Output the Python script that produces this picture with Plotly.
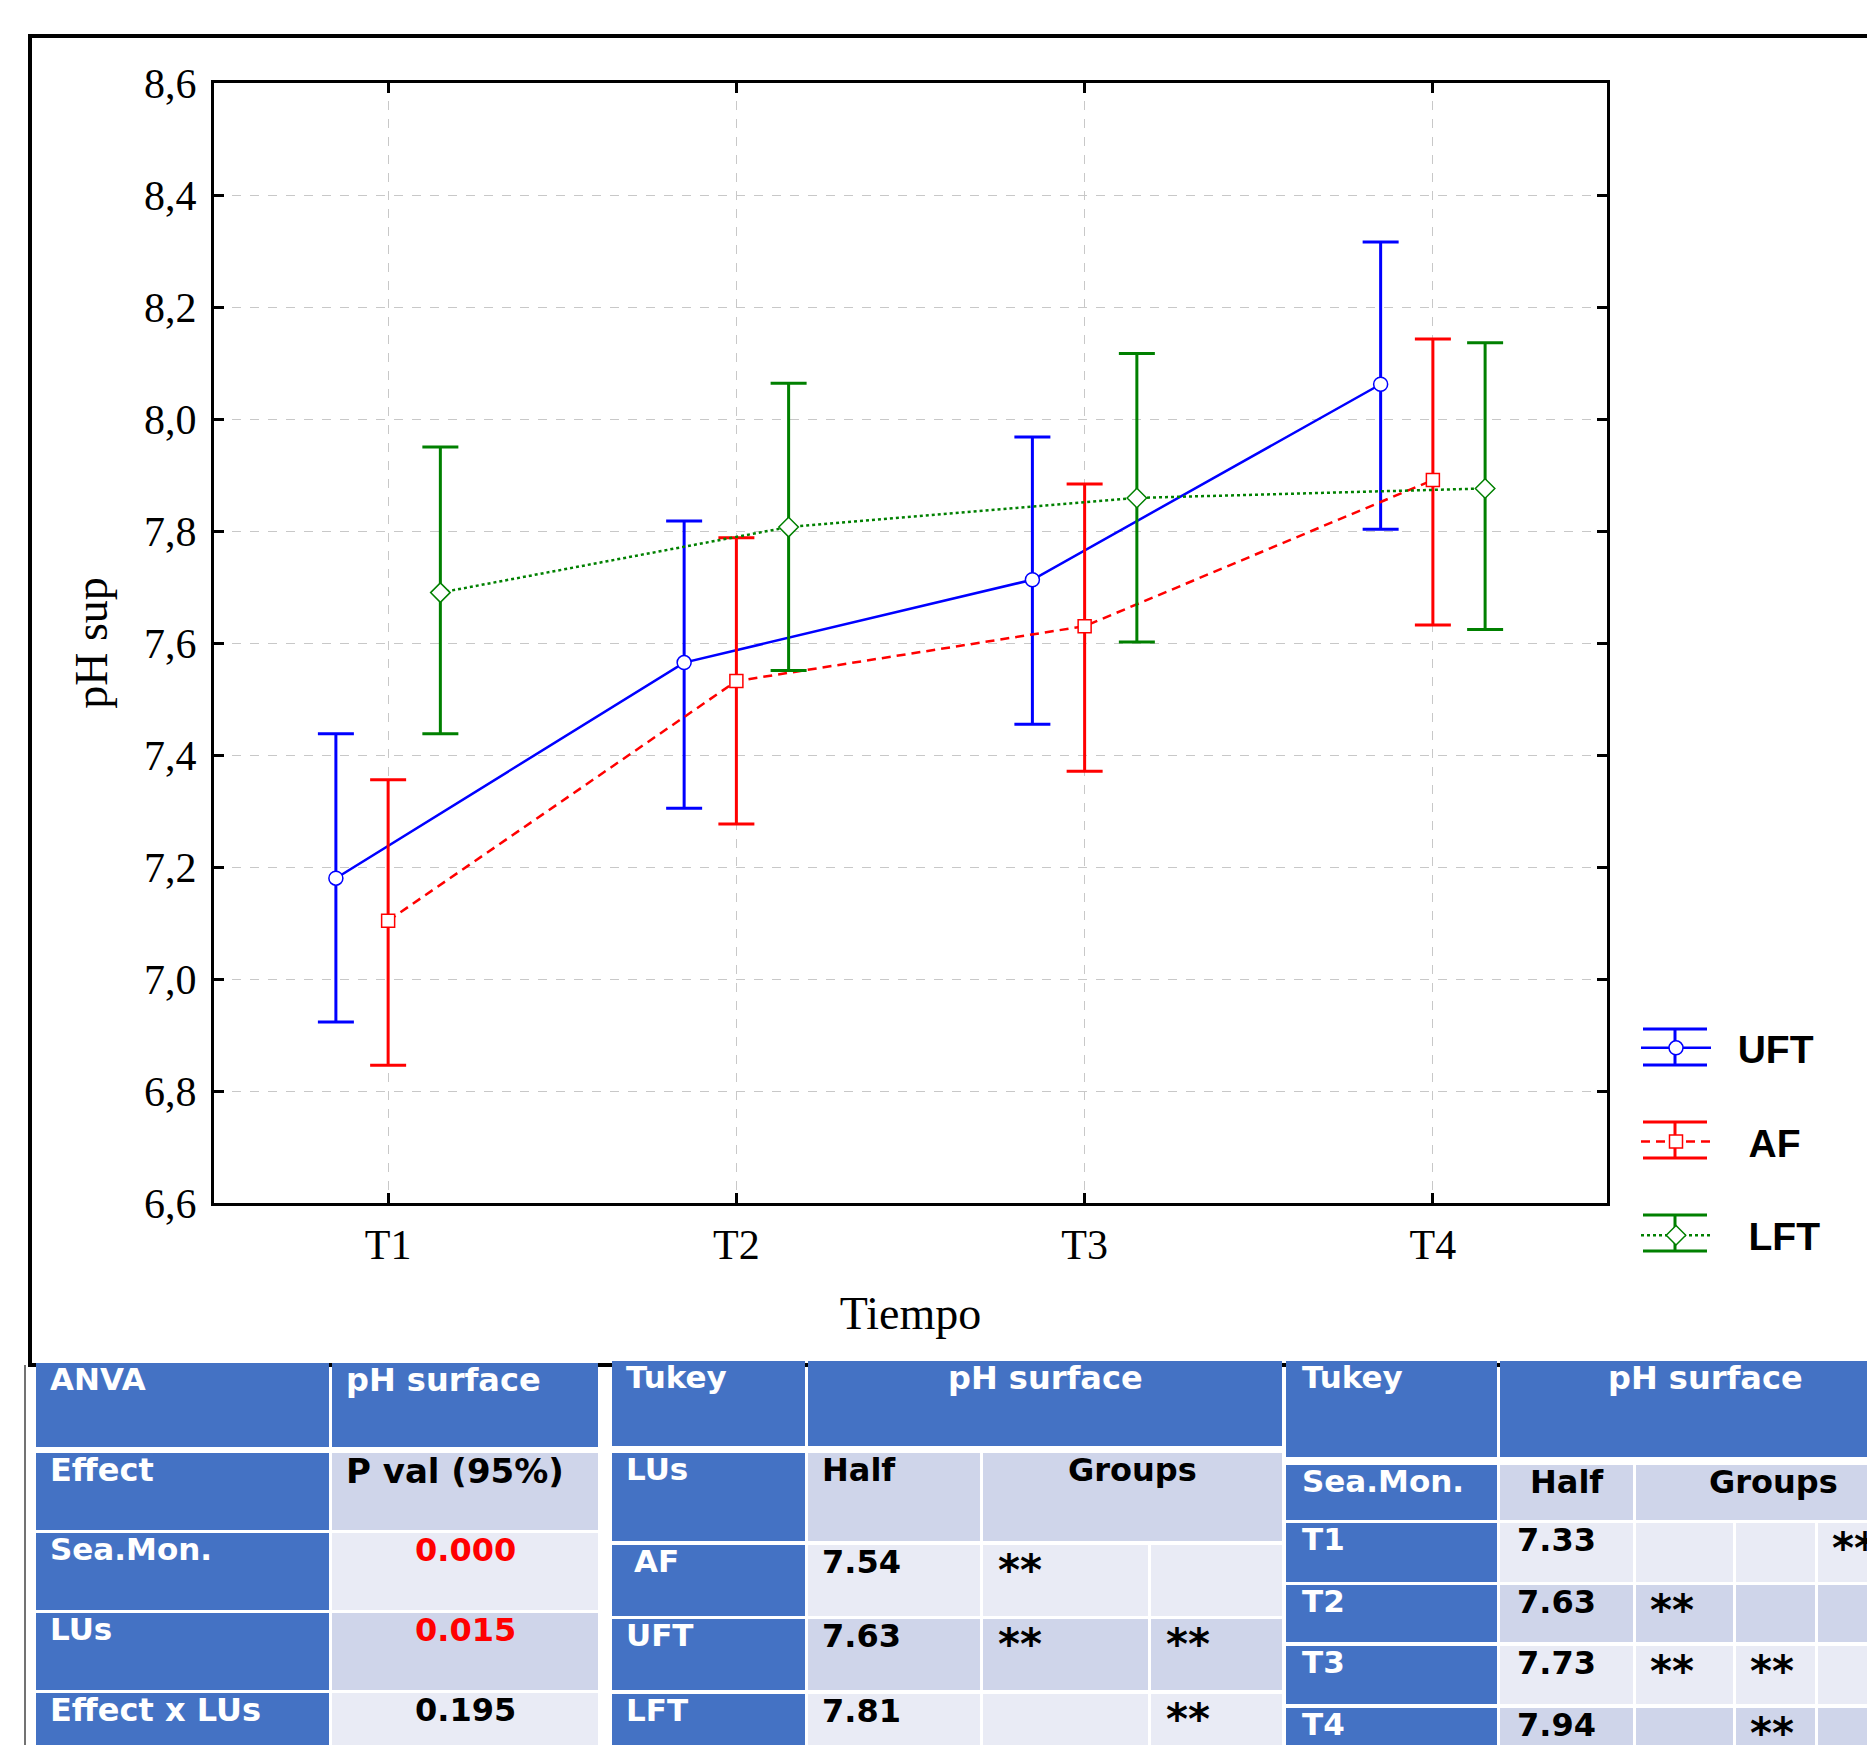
import plotly.graph_objects as go

# ---------------- data ----------------
categories = ["T1", "T2", "T3", "T4"]
series_names = ["UFT", "AF", "LFT"]

uft_mean = [7.180, 7.565, 7.713, 8.062]
uft_upper = [7.438, 7.818, 7.968, 8.316]
uft_lower = [6.923, 7.305, 7.455, 7.803]

af_mean = [7.104, 7.532, 7.630, 7.891]
af_upper = [7.356, 7.788, 7.884, 8.143]
af_lower = [6.846, 7.277, 7.371, 7.632]

lft_mean = [7.690, 7.807, 7.859, 7.876]
lft_upper = [7.950, 8.064, 8.117, 8.136]
lft_lower = [7.438, 7.551, 7.602, 7.624]

y_ticks = [6.6, 6.8, 7.0, 7.2, 7.4, 7.6, 7.8, 8.0, 8.2, 8.4, 8.6]

anova_effects = ["Sea.Mon.", "LUs", "Effect x LUs"]
anova_pvals = ["0.000", "0.015", "0.195"]

tukey_lus = ["AF", "UFT", "LFT"]
tukey_lus_means = ["7.54", "7.63", "7.81"]
tukey_lus_groups = [[1, 0], [1, 1], [0, 1]]

tukey_time = ["T1", "T2", "T3", "T4"]
tukey_time_means = ["7.33", "7.63", "7.73", "7.94"]
tukey_time_groups = [[0, 0, 1], [1, 0, 0], [1, 1, 0], [0, 1, 0]]

# ---------------- layout geometry (page pixels) ----------------
W, H = 1875, 1745
OFF = 8  # default page body margin
PL, PR, PT, PB = 214, 1607, 83, 1203


def px(x):
    return (x - PL) / (PR - PL)


def py(y):
    return (PB - y) / (PB - PT)


series = [
    dict(name="UFT", mean=uft_mean, up=uft_upper, lo=uft_lower, color="#0000FF",
         dash="solid", symbol="circle", size=14, offset=-0.15, pad=2),
    dict(name="AF", mean=af_mean, up=af_upper, lo=af_lower, color="#FF0000",
         dash="9px,6px", symbol="square", size=13, offset=0.0, pad=3),
    dict(name="LFT", mean=lft_mean, up=lft_upper, lo=lft_lower, color="#008000",
         dash="dot", symbol="diamond", size=15, offset=0.15, pad=3),
]

fig = go.Figure()
for i, s in enumerate(series):
    xs = [k + s["offset"] for k in range(len(categories))]
    fig.add_trace(go.Scatter(
        x=xs, y=s["mean"], name="\u00a0" * s["pad"] + s["name"], mode="lines+markers",
        legendgroup=s["name"],
        line=dict(color=s["color"], width=2.5, dash=s["dash"]),
        marker=dict(symbol=s["symbol"], size=s["size"], color="white",
                    line=dict(color=s["color"], width=1.5)),
        error_y=dict(type="data", symmetric=False,
                     array=[u - m for u, m in zip(s["up"], s["mean"])],
                     arrayminus=[m - l for m, l in zip(s["mean"], s["lo"])],
                     color=s["color"], thickness=3, width=18),
    ))

shapes = []
annotations = []

# outer frame
shapes.append(dict(type="rect", xref="paper", yref="paper",
                   x0=px(30), x1=px(1900), y0=py(1365), y1=py(36),
                   line=dict(color="black", width=4), fillcolor="rgba(0,0,0,0)",
                   layer="below"))
shapes.append(dict(type="line", xref="paper", yref="paper",
                   x0=px(25), x1=px(25), y0=py(1365), y1=py(1760),
                   line=dict(color="#444", width=1.5)))

# legend error-bar decorations
leg_y = [1047, 1140, 1233]
for s, cy in zip(series, leg_y):
    for dy in (-18, 18):
        shapes.append(dict(type="line", xref="paper", yref="paper",
                           x0=px(1643), x1=px(1707), y0=py(cy + dy), y1=py(cy + dy),
                           line=dict(color=s["color"], width=3)))
    shapes.append(dict(type="line", xref="paper", yref="paper",
                       x0=px(1675), x1=px(1675), y0=py(cy - 18), y1=py(cy + 18),
                       line=dict(color=s["color"], width=3), layer="below"))

BLUE = "#4472C4"
DARK = "#CFD5EA"
LIGHT = "#E9EBF5"
TFONT = "DejaVu Sans"
TS = 31


def rect(x0, y0, x1, y1, fill):
    shapes.append(dict(type="rect", xref="paper", yref="paper",
                       x0=px(x0), x1=px(x1), y0=py(y1), y1=py(y0),
                       fillcolor=fill, line=dict(width=0), layer="above"))


def text(x, y, t, color="white", anchor="left", size=TS, dy=-4):
    annotations.append(dict(x=px(x), y=py(y + dy), xref="paper", yref="paper",
                            xanchor=anchor, yanchor="top", text=t, showarrow=False,
                            font=dict(family=TFONT, size=size, color=color, weight="bold")))


def stars(x, y):
    text(x, y, "**", color="black", size=42, dy=-1)


PAD = 12
NS = 32  # numbers

# ---- Table 1: ANVA ----
t1c = [(36, 329), (332, 598)]
t1r = [(1363, 1447), (1453, 1530), (1533, 1610), (1613, 1690), (1693, 1770)]
rect(t1c[0][0], t1r[0][0], t1c[0][1], t1r[0][1], BLUE)
rect(t1c[1][0], t1r[0][0], t1c[1][1], t1r[0][1], BLUE)
text(t1c[0][0] + PAD, t1r[0][0], "ANVA")
text(t1c[1][0] + PAD, t1r[0][0], "pH surface", size=32)
rect(t1c[0][0], t1r[1][0], t1c[0][1], t1r[1][1], BLUE)
rect(t1c[1][0], t1r[1][0], t1c[1][1], t1r[1][1], DARK)
text(t1c[0][0] + PAD, t1r[1][0], "Effect", size=32)
text(t1c[1][0] + PAD, t1r[1][0], "P val (95%)", color="black", size=34)
for i, (eff, pv) in enumerate(zip(anova_effects, anova_pvals)):
    r = t1r[2 + i]
    rect(t1c[0][0], r[0], t1c[0][1], r[1], BLUE)
    rect(t1c[1][0], r[0], t1c[1][1], r[1], LIGHT if i % 2 == 0 else DARK)
    text(t1c[0][0] + PAD, r[0], eff, size=32 if "x" in eff else TS)
    col = "#FF0000" if float(pv) < 0.05 else "black"
    text((t1c[1][0] + t1c[1][1]) / 2, r[0], pv, color=col, anchor="center", size=NS)

# ---- Table 2: Tukey LUs ----
t2c = [(612, 805), (808, 980), (983, 1148), (1151, 1282)]
t2r = [(1361, 1446), (1453, 1541), (1545, 1616), (1619, 1690), (1694, 1770)]
rect(t2c[0][0], t2r[0][0], t2c[0][1], t2r[0][1], BLUE)
rect(t2c[1][0], t2r[0][0], t2c[3][1], t2r[0][1], BLUE)
text(t2c[0][0] + PAD, t2r[0][0], "Tukey")
text((t2c[1][0] + t2c[3][1]) / 2, t2r[0][0], "pH surface", anchor="center", size=32)
rect(t2c[0][0], t2r[1][0], t2c[0][1], t2r[1][1], BLUE)
rect(t2c[1][0], t2r[1][0], t2c[1][1], t2r[1][1], DARK)
rect(t2c[2][0], t2r[1][0], t2c[3][1], t2r[1][1], DARK)
text(t2c[0][0] + PAD, t2r[1][0], "LUs")
text(t2c[1][0] + PAD, t2r[1][0], "Half", color="black", size=32)
text((t2c[2][0] + t2c[3][1]) / 2, t2r[1][0], "Groups", color="black", anchor="center", size=32)
for i, (lu, m, g) in enumerate(zip(tukey_lus, tukey_lus_means, tukey_lus_groups)):
    r = t2r[2 + i]
    fill = LIGHT if i % 2 == 0 else DARK
    rect(t2c[0][0], r[0], t2c[0][1], r[1], BLUE)
    text(t2c[0][0] + PAD + (8 if lu == "AF" else 0), r[0], lu)
    for c in range(1, 4):
        rect(t2c[c][0], r[0], t2c[c][1], r[1], fill)
    text(t2c[1][0] + PAD, r[0], m, color="black", size=NS)
    for j, flag in enumerate(g):
        if flag:
            stars(t2c[2 + j][0] + PAD + 1, r[0])

# ---- Table 3: Tukey Sea.Mon. ----
t3c = [(1286, 1497), (1500, 1633), (1636, 1733), (1736, 1815), (1818, 1910)]
t3r = [(1361, 1457), (1465, 1520), (1523, 1582), (1585, 1642), (1646, 1704), (1708, 1770)]
rect(t3c[0][0], t3r[0][0], t3c[0][1], t3r[0][1], BLUE)
rect(t3c[1][0], t3r[0][0], t3c[4][1], t3r[0][1], BLUE)
text(t3c[0][0] + PAD + 2, t3r[0][0], "Tukey")
text((t3c[1][0] + t3c[4][1]) / 2, t3r[0][0], "pH surface", anchor="center", size=32)
rect(t3c[0][0], t3r[1][0], t3c[0][1], t3r[1][1], BLUE)
rect(t3c[1][0], t3r[1][0], t3c[1][1], t3r[1][1], DARK)
rect(t3c[2][0], t3r[1][0], t3c[4][1], t3r[1][1], DARK)
text(t3c[0][0] + PAD + 2, t3r[1][0], "Sea.Mon.")
text((t3c[1][0] + t3c[1][1]) / 2, t3r[1][0], "Half", color="black", anchor="center", size=32)
text((t3c[2][0] + t3c[4][1]) / 2, t3r[1][0], "Groups", color="black", anchor="center", size=32)
for i, (tt, m, g) in enumerate(zip(tukey_time, tukey_time_means, tukey_time_groups)):
    r = t3r[2 + i]
    fill = LIGHT if i % 2 == 0 else DARK
    rect(t3c[0][0], r[0], t3c[0][1], r[1], BLUE)
    text(t3c[0][0] + PAD + 2, r[0], tt)
    for c in range(1, 5):
        rect(t3c[c][0], r[0], t3c[c][1], r[1], fill)
    text(t3c[1][0] + PAD + 3, r[0], m, color="black", size=NS)
    for j, flag in enumerate(g):
        if flag:
            stars(t3c[2 + j][0] + PAD, r[0])

axis_font = dict(family="Liberation Serif", size=42, color="black")
fig.update_layout(
    width=W - OFF, height=H - OFF,
    margin=dict(l=PL - OFF, r=W - PR, t=PT - OFF, b=H - PB, autoexpand=False),
    paper_bgcolor="white", plot_bgcolor="white",
    separators=",.",
    shapes=shapes, annotations=annotations,
    showlegend=True,
    legend=dict(x=px(1636), y=py(1016), xanchor="left", yanchor="top",
                traceorder="grouped", tracegroupgap=40, itemwidth=70,
                bgcolor="rgba(0,0,0,0)",
                font=dict(family="Liberation Sans", size=39, color="black", weight="bold")),
    xaxis=dict(range=[-0.5, 3.5], tickmode="array", tickvals=list(range(len(categories))),
               ticktext=categories, tickfont=axis_font, showline=True, linewidth=3,
               linecolor="black", mirror="ticks", ticks="inside", ticklen=10, tickwidth=3,
               tickcolor="black", showgrid=True, gridcolor="#c8c8c8", gridwidth=1,
               griddash="dash", zeroline=False, ticklabelstandoff=3,
               title=dict(text="Tiempo", font=dict(family="Liberation Serif", size=46, color="black"),
                          standoff=30)),
    yaxis=dict(range=[6.6, 8.6], tickmode="array", tickvals=y_ticks, tickformat=".1f",
               tickfont=axis_font, showline=True, linewidth=3, linecolor="black",
               mirror="ticks", ticks="inside", ticklen=10, tickwidth=3, tickcolor="black",
               showgrid=True, gridcolor="#c8c8c8", gridwidth=1, griddash="dash",
               zeroline=False, ticklabelstandoff=6,
               title=dict(text="pH sup", font=dict(family="Liberation Serif", size=46, color="black"),
                          standoff=22)),
)

fig.write_html("out.html")
